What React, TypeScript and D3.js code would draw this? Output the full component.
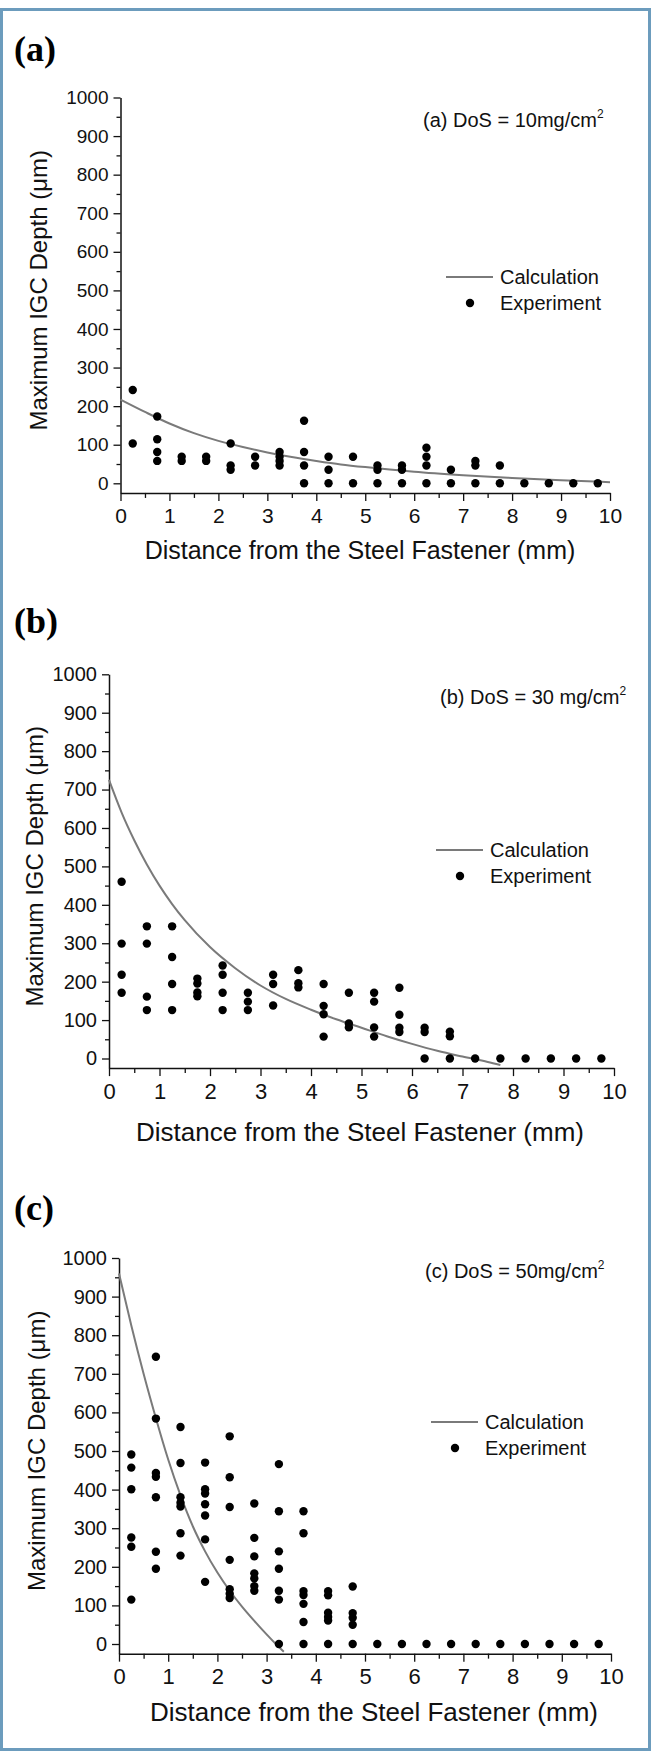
import { useEffect, useRef } from 'react'
import * as d3 from 'd3'

const W = 652, H = 1753
const FONT = '"Liberation Sans", Arial, Helvetica, sans-serif'
const SERIF = '"Liberation Serif", "Times New Roman", serif'
const CURVE = '#7a7a7a'

// ── data ──────────────────────────────────────────────────────────────────
const X_POS = [0.25, 0.75, 1.25, 1.75, 2.25, 2.75, 3.25, 3.75, 4.25, 4.75,
               5.25, 5.75, 6.25, 6.75, 7.25, 7.75, 8.25, 8.75, 9.25, 9.75]

const X_TICKS = [0, 1, 2, 3, 4, 5, 6, 7, 8, 9, 10]
const Y_TICKS = [0, 100, 200, 300, 400, 500, 600, 700, 800, 900, 1000]

// experiment depths (µm) per distance column
const EXP_A = [
  [242, 103], [173, 114, 81, 58], [69, 58], [69, 58], [103, 46, 35],
  [69, 46], [81, 69, 58, 46], [162, 81, 46, 0], [69, 35, 0], [69, 0],
  [46, 35, 0], [46, 35, 0], [92, 69, 46, 0], [35, 0], [58, 46, 0],
  [46, 0], [0], [0], [0], [0],
]
const EXP_B = [
  [460, 299, 218, 171], [344, 299, 161, 126], [344, 264, 194, 126], [208, 195, 172, 162],
  [242, 218, 171, 126], [171, 148, 126], [218, 194, 138], [230, 196, 185],
  [194, 137, 115, 57], [171, 91, 81], [171, 148, 81, 57], [184, 114, 80, 69],
  [80, 69, 0], [70, 58, 0], [0], [0], [0], [0], [0], [0],
]
const EXP_C = [
  [491, 457, 401, 276, 252, 115],
  [744, 584, 443, 433, 380, 239, 195],
  [562, 469, 380, 366, 356, 287, 229],
  [470, 401, 390, 362, 333, 271, 161],
  [538, 432, 355, 218, 142, 130, 119],
  [364, 275, 227, 183, 170, 150, 138],
  [466, 344, 240, 195, 138, 115, 0],
  [344, 287, 137, 127, 104, 57, 0],
  [137, 126, 81, 70, 61, 0],
  [149, 80, 68, 50, 0],
  [0], [0], [0], [0], [0], [0], [0], [0], [0], [0],
]

// calculated curves
const CALC_A_X = [0, 0.5, 1, 1.5, 2, 2.5, 3, 3.5, 4, 4.5, 5, 5.5, 6, 7, 8, 9, 10]
const CALC_A_Y = [217, 185, 155, 130, 110, 94, 80, 68, 58, 49, 42, 36, 30, 21, 14, 8, 3]
const CALC_B_X = [0, 0.25, 0.5, 0.75, 1, 1.25, 1.5, 2, 2.5, 3, 3.5, 4, 4.5, 5, 5.5, 6, 6.5, 7, 7.5, 7.75]
const CALC_B_Y = [725, 640, 568, 505, 450, 402, 360, 290, 235, 190, 155, 127, 102, 80, 58, 38, 20, 5, -9, -17]
const CALC_C_X = [0, 0.25, 0.5, 0.75, 1, 1.25, 1.5, 1.75, 2, 2.25, 2.5, 2.75, 3, 3.25, 3.35]
const CALC_C_Y = [960, 825, 700, 585, 478, 385, 305, 240, 185, 138, 97, 60, 25, -8, -20]

const DOS = ['10mg/cm', '30 mg/cm', '50mg/cm']

// ── layout of the three panels ────────────────────────────────────────────
const PANELS = [
  { tag: '(a)', tagY: 61, left: 120.5, right: 610, top: 97.5, zero: 483.3,
    yFs: 19, xFs: 21, tFs: 25, yTitleX: 47, xTitleX: 360, xTitleY: 559,
    annX: 423, annY: 127, legX: 446, legY: 277, exp: EXP_A, cx: CALC_A_X, cy: CALC_A_Y },
  { tag: '(b)', tagY: 633, left: 109, right: 614, top: 674.3, zero: 1058.5,
    yFs: 20, xFs: 22, tFs: 26, yTitleX: 43, xTitleX: 360, xTitleY: 1141,
    annX: 440, annY: 704, legX: 436, legY: 850, exp: EXP_B, cx: CALC_B_X, cy: CALC_B_Y },
  { tag: '(c)', tagY: 1220, left: 119, right: 611, top: 1258, zero: 1644,
    yFs: 20, xFs: 22, tFs: 26, yTitleX: 45, xTitleX: 374, xTitleY: 1721,
    annX: 425, annY: 1278, legX: 431, legY: 1422, exp: EXP_C, cx: CALC_C_X, cy: CALC_C_Y },
]

const Y_MIN = -25

export default function App() {
  const svgRef = useRef<SVGSVGElement>(null)

  useEffect(() => {
    const svg = d3.select(svgRef.current!)
    svg.selectAll('*').remove()

    svg.append('rect').attr('x', 1.5).attr('y', 9.5).attr('width', 648).attr('height', 1740)
      .attr('fill', '#fff').attr('stroke', '#6c9cbd').attr('stroke-width', 3)

    PANELS.forEach((p, pi) => {
      const g = svg.append('g')
      const base = p.zero + (p.zero - p.top) * 25 / 1000
      const x = d3.scaleLinear().domain([0, 10]).range([p.left, p.right])
      const y = d3.scaleLinear().domain([Y_MIN, 1000]).range([base, p.top])

      // panel tag
      g.append('text').attr('x', 14).attr('y', p.tagY)
        .attr('font-family', SERIF).attr('font-weight', 'bold').attr('font-size', 36)
        .attr('fill', '#000').text(p.tag)

      // ── y axis ──
      g.append('g').attr('transform', `translate(${p.left},0)`)
        .call(d3.axisLeft(y).tickValues(d3.range(50, 1000, 100)).tickSize(4).tickSizeOuter(0).tickFormat(() => ''))
        .call(ax => ax.select('.domain').remove())
        .call(ax => ax.selectAll('.tick line').attr('stroke', '#111').attr('stroke-width', 1.3))
      g.append('g').attr('transform', `translate(${p.left},0)`)
        .call(d3.axisLeft(y).tickValues(Y_TICKS).tickSize(7).tickSizeOuter(0).tickPadding(5).tickFormat(d3.format('d')))
        .call(ax => {
          ax.select('.domain').attr('stroke', '#111').attr('stroke-width', 1.5)
          ax.selectAll('.tick line').attr('stroke', '#111').attr('stroke-width', 1.3)
          ax.selectAll('.tick text').attr('font-size', p.yFs).attr('font-family', FONT).attr('fill', '#111')
        })

      // ── x axis ──
      g.append('g').attr('transform', `translate(0,${base})`)
        .call(d3.axisBottom(x).tickValues(d3.range(0.5, 10, 1)).tickSize(5).tickSizeOuter(0).tickFormat(() => ''))
        .call(ax => ax.select('.domain').remove())
        .call(ax => ax.selectAll('.tick line').attr('stroke', '#111').attr('stroke-width', 1.3))
      g.append('g').attr('transform', `translate(0,${base})`)
        .call(d3.axisBottom(x).tickValues(X_TICKS).tickSize(8).tickSizeOuter(0).tickPadding(7).tickFormat(d3.format('d')))
        .call(ax => {
          ax.select('.domain').attr('stroke', '#111').attr('stroke-width', 1.5)
          ax.selectAll('.tick line').attr('stroke', '#111').attr('stroke-width', 1.3)
          ax.selectAll('.tick text').attr('font-size', p.xFs).attr('font-family', FONT).attr('fill', '#111')
        })

      // ── axis titles ──
      g.append('text').attr('x', p.xTitleX).attr('y', p.xTitleY).attr('text-anchor', 'middle')
        .attr('font-family', FONT).attr('font-size', p.tFs).attr('fill', '#111')
        .text('Distance from the Steel Fastener (mm)')
      g.append('text')
        .attr('transform', `translate(${p.yTitleX},${(p.top + base) / 2 - 5}) rotate(-90)`)
        .attr('text-anchor', 'middle')
        .attr('font-family', FONT).attr('font-size', 24).attr('fill', '#111')
        .text('Maximum IGC Depth (μm)')

      // ── calculation curve ──
      const pts = p.cx.map((v, i) => [v, p.cy[i]] as [number, number])
      g.append('path').datum(pts)
        .attr('d', d3.line<[number, number]>().x(d => x(d[0])).y(d => y(d[1])).curve(d3.curveMonotoneX))
        .attr('fill', 'none').attr('stroke', CURVE).attr('stroke-width', 2)

      // ── experiment dots ──
      const dots = X_POS.flatMap((xv, i) => p.exp[i].map(v => ({ x: xv, v })))
      g.selectAll('circle.exp').data(dots).join('circle').attr('class', 'exp')
        .attr('cx', d => x(d.x)).attr('cy', d => y(d.v)).attr('r', 4.2).attr('fill', '#000')

      // ── annotation ──
      const ann = g.append('text').attr('x', p.annX).attr('y', p.annY)
        .attr('font-family', FONT).attr('font-size', 20).attr('fill', '#111')
      ann.append('tspan').text(`${p.tag} DoS = ${DOS[pi]}`)
      ann.append('tspan').attr('dy', -9).attr('font-size', 12).text('2')

      // ── legend ──
      g.append('line').attr('x1', p.legX).attr('x2', p.legX + 47).attr('y1', p.legY).attr('y2', p.legY)
        .attr('stroke', CURVE).attr('stroke-width', 2)
      g.append('circle').attr('cx', p.legX + 24).attr('cy', p.legY + 26).attr('r', 4.2).attr('fill', '#000')
      g.append('text').attr('x', p.legX + 54).attr('y', p.legY + 7)
        .attr('font-family', FONT).attr('font-size', 20).attr('fill', '#111').text('Calculation')
      g.append('text').attr('x', p.legX + 54).attr('y', p.legY + 33)
        .attr('font-family', FONT).attr('font-size', 20).attr('fill', '#111').text('Experiment')
    })
  }, [])

  return (
    <div style={{ position: 'absolute', left: 0, top: 0, width: W, height: H, background: '#fff' }}>
      <svg ref={svgRef} width={W} height={H} viewBox={`0 0 ${W} ${H}`} style={{ display: 'block' }} />
    </div>
  )
}
